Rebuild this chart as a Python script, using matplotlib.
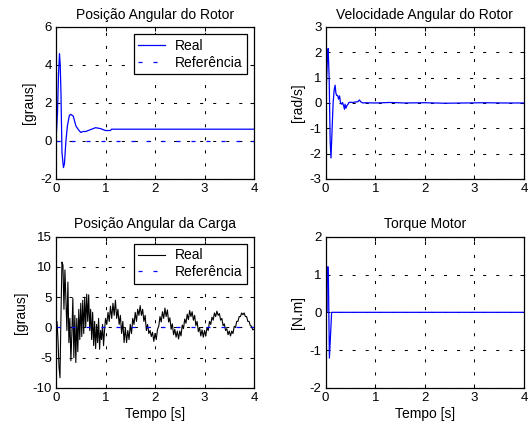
import matplotlib
matplotlib.use('Agg')
import matplotlib.pyplot as plt
import numpy as np

plt.rcParams['font.family'] = ['Liberation Sans', 'DejaVu Sans']
plt.rcParams['lines.scale_dashes'] = False
plt.rcParams['axes.unicode_minus'] = False

# rotor position [graus]
t_pos = [0, 0.03, 0.05, 0.07, 0.085, 0.10, 0.12, 0.15, 0.17, 0.20, 0.23, 0.27, 0.30,
         0.35, 0.40, 0.45, 0.50, 0.55, 0.60, 0.70, 0.80, 0.90, 1.00, 1.05, 1.10, 1.12, 4.0]
pos_rotor = [0, 1.5, 3.5, 4.6, 4.0, 2.5, -0.6, -1.4, -1.2, 0.0, 0.8, 1.35, 1.4,
             1.3, 0.8, 0.6, 0.45, 0.5, 0.5, 0.6, 0.7, 0.65, 0.55, 0.55, 0.55, 0.62, 0.62]

# rotor speed [rad/s]
t_vel = [0, 0.02, 0.04, 0.05, 0.07, 0.09, 0.107, 0.13, 0.15, 0.17, 0.19, 0.205, 0.22,
         0.24, 0.26, 0.28, 0.30, 0.32, 0.34, 0.36, 0.38, 0.39, 0.41, 0.43, 0.45, 0.47,
         0.50, 0.55, 0.60, 0.65, 0.68, 0.71, 0.75, 0.80, 1.0, 1.3, 1.6, 2.0, 2.4,
         2.8, 3.2, 3.6, 4.0]
vel_rotor = [0, 1.0, 2.0, 2.15, 1.0, -1.5, -2.17, -1.0, 0.0, 0.5, 0.7, 0.4, 0.3,
             0.3, 0.15, 0.28, 0.0, -0.05, 0.02, -0.1, -0.25, -0.05, -0.2, -0.1, -0.05, 0.02,
             0.03, 0.02, 0.04, 0.05, 0.12, 0.04, 0.0, 0.01, 0.0, 0.02, 0.0, 0.01, -0.01,
             0.0, 0.01, 0.0, 0.0]

# load position [graus]
t_load = [0.00, 0.02, 0.04, 0.06, 0.08, 0.10, 0.12, 0.14, 0.16, 0.18, 0.20, 0.22, 0.24,
          0.26, 0.28, 0.30, 0.32, 0.34, 0.36, 0.38, 0.40, 0.42, 0.44, 0.46, 0.48, 0.50,
          0.52, 0.54, 0.56, 0.58, 0.60, 0.62, 0.64, 0.66, 0.68, 0.70, 0.72, 0.74, 0.76,
          0.78, 0.80, 0.82, 0.84, 0.86, 0.88, 0.90, 0.92, 0.94, 0.96, 0.98, 1.00,
          1.025, 1.05, 1.075, 1.10, 1.125, 1.15, 1.175, 1.20, 1.225, 1.25, 1.275, 1.30,
          1.325, 1.35, 1.375, 1.40, 1.425, 1.45, 1.475, 1.50, 1.525, 1.55, 1.575, 1.60,
          1.625, 1.65, 1.675, 1.70, 1.725, 1.75, 1.775, 1.80, 1.825, 1.85, 1.875, 1.90,
          1.925, 1.95, 1.975, 2.00, 2.025, 2.05, 2.075, 2.10, 2.125, 2.15, 2.175, 2.20,
          2.225, 2.25, 2.275, 2.30, 2.325, 2.35, 2.375, 2.40, 2.425, 2.45, 2.475, 2.50,
          2.525, 2.55, 2.575, 2.60, 2.625, 2.65, 2.675, 2.70, 2.725, 2.75, 2.775, 2.80,
          2.825, 2.85, 2.875, 2.90, 2.925, 2.95, 2.975, 3.00, 3.025, 3.05, 3.075, 3.10,
          3.125, 3.15, 3.175, 3.20, 3.225, 3.25, 3.275, 3.30, 3.325, 3.35, 3.375, 3.40,
          3.425, 3.45, 3.475, 3.50, 3.525, 3.55, 3.575, 3.60, 3.625, 3.65, 3.675, 3.70,
          3.725, 3.75, 3.775, 3.80, 3.825, 3.85, 3.875, 3.90, 3.925, 3.95, 3.975, 4.00]
pos_load = [0.0, 1.0, -2.0, -6.5, -8.3, 2.0, 10.8, 10.3, 3.0, 9.5, 4.5, -0.5, 7.5,
            -2.5, 1.5, -5.5, -1.0, 4.8, -5.0, 2.0, -5.8, 1.5, -4.0, 3.0, -2.0, 4.0,
            -1.5, 4.5, -1.0, 5.0, 0.0, 5.5, 1.0, 5.4, -0.5, 3.0, -2.0, 2.5, -3.0,
            1.0, -3.5, 0.5, -2.5, 1.5, -3.6, -0.5, -2.0, 0.5, -3.0, -0.5, 1.5,
            0.5, 2.5, 1.0, 3.5, 1.5, 4.0, 2.0, 4.5, 1.5, 3.0, 0.5, 2.0,
            -1.0, 1.0, -2.5, 0.0, -2.5, -0.5, -2.0, 0.5, -1.0, 1.5, 0.5, 2.5,
            1.0, 3.0, 2.0, 3.6, 2.0, 3.0, 1.0, 2.0, -0.5, 0.5, -1.0, -0.5,
            -1.5, -0.8, -2.3, -1.0, -2.0, -0.3, 0.2, 1.8, 0.9, 2.6, 1.5, 3.2,
            1.8, 2.9, 0.9, 1.6, -0.3, 0.6, -1.2, -0.3, -1.6, -0.6, -1.9, -0.6,
            -1.4, 0.4, -0.2, 1.4, 0.7, 2.2, 1.3, 2.8, 1.8, 2.6, 1.2, 2.0,
            0.3, 1.0, -0.7, 0.0, -1.4, -0.4, -1.6, -0.5, -1.4, 0.0, -0.5, 1.0,
            0.5, 1.7, 1.2, 2.4, 1.8, 2.7, 2.0, 2.3, 1.2, 1.5, 0.3, 0.6,
            -0.5, -0.2, -1.2, -0.6, -1.4, -0.6, -1.0, 0.2, 0.0, 1.0, 1.0, 1.8,
            1.8, 2.4, 2.1, 2.4, 1.8, 1.8, 1.0, 1.0, 0.3, 0.2, -0.4, -0.3]

# motor torque [N.m]
t_torque = [0, 0.028, 0.03, 0.052, 0.075, 0.12, 4.0]
torque = [0, 0, 1.2, 1.2, -1.21, 0, 0]

t_ref = [0, 4]
ref = [0, 0]

grid_dash = (0, (2.2, 7.2))
ref_dash = (0, (2.9, 7.9))

fig = plt.figure(figsize=(5.3, 4.29), dpi=100)
ax1 = fig.add_axes([0.1057, 0.5828, 0.3736, 0.3543])
ax2 = fig.add_axes([0.6145, 0.5828, 0.3742, 0.3543])
ax3 = fig.add_axes([0.1057, 0.0956, 0.3736, 0.3527])
ax4 = fig.add_axes([0.6145, 0.0956, 0.3742, 0.3527])


def style(ax, ylim, yticks, title, ylabel, xlabel=None):
    ax.set_xlim(0, 4)
    ax.set_ylim(*ylim)
    ax.set_xticks([0, 1, 2, 3, 4])
    ax.set_yticks(yticks)
    ax.grid(True, color='black', linestyle=grid_dash, linewidth=0.75)
    ax.tick_params(direction='in', length=3, width=0.75, labelsize=9.5, pad=3,
                   top=True, right=True)
    for s in ax.spines.values():
        s.set_linewidth(0.9)
    ax.set_title(title, fontsize=10, pad=6)
    ax.set_ylabel(ylabel, fontsize=10, labelpad=3)
    if xlabel:
        ax.set_xlabel(xlabel, fontsize=10, labelpad=2)


ax1.plot(t_pos, pos_rotor, color='blue', lw=0.9, label='Real')
ax1.plot(t_ref, ref, color='blue', lw=0.9, linestyle=ref_dash, label='Referência')
style(ax1, (-2, 6), [-2, 0, 2, 4, 6], 'Posição Angular do Rotor', '[graus]')

ax2.plot(t_vel, vel_rotor, color='blue', lw=0.9)
style(ax2, (-3, 3), [-3, -2, -1, 0, 1, 2, 3], 'Velocidade Angular do Rotor', '[rad/s]')

ax3.plot(t_load, pos_load, color='black', lw=0.8, label='Real')
ax3.plot(t_ref, ref, color='blue', lw=0.9, linestyle=ref_dash, label='Referência')
style(ax3, (-10, 15), [-10, -5, 0, 5, 10, 15], 'Posição Angular da Carga', '[graus]',
      'Tempo [s]')

ax4.plot(t_torque, torque, color='blue', lw=0.9)
style(ax4, (-2, 2), [-2, -1, 0, 1, 2], 'Torque Motor', '[N.m]', 'Tempo [s]')

for ax in (ax1, ax3):
    leg = ax.legend(loc='upper right', fontsize=10, frameon=True, fancybox=False,
                    shadow=False, handlelength=1.9, handletextpad=0.7,
                    borderpad=0.35, labelspacing=0.2, borderaxespad=0.5)
    leg.get_frame().set_edgecolor('black')
    leg.get_frame().set_linewidth(0.9)
    leg.get_frame().set_alpha(1)

fig.savefig('out.png', dpi=100)
